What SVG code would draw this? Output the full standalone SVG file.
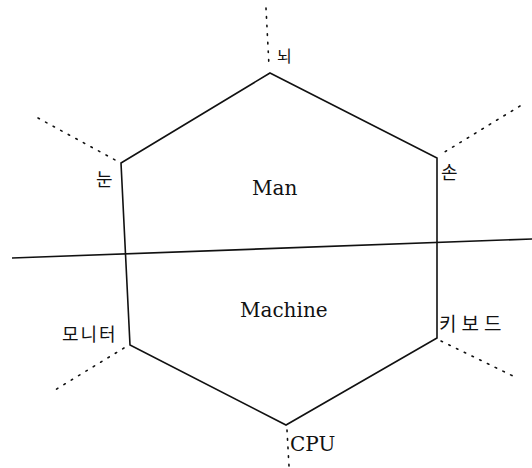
<svg xmlns="http://www.w3.org/2000/svg" width="532" height="468" viewBox="0 0 532 468">
<style>
.edge{fill:none;stroke:#111;stroke-width:1.6;stroke-linejoin:miter}
.dot{fill:none;stroke:#111;stroke-width:1.6;stroke-dasharray:1.6 7;stroke-linecap:round}
.ko{font-family:"Noto Sans CJK KR","Noto Sans",sans-serif;fill:#111}
.en{font-family:"DejaVu Serif","Liberation Serif",serif;font-size:20px;fill:#111}
</style>
<rect width="532" height="468" fill="#fff"/>
<g id="hexagon">
<polygon class="edge" points="270,73 437,158 437,338 286,425 130,345 121,163"/>
<line class="edge" x1="12" y1="258" x2="532" y2="239"/>
</g>
<g id="connectors">
<line class="dot" x1="266" y1="8" x2="269" y2="66"/>
<line class="dot" x1="38" y1="118" x2="117" y2="161"/>
<line class="dot" x1="520" y1="106" x2="443" y2="153"/>
<line class="dot" x1="124" y1="348" x2="55" y2="390"/>
<line class="dot" x1="441" y1="341" x2="517" y2="378"/>
<line class="dot" x1="287" y1="430" x2="289" y2="466"/>
</g>
<g id="node-brain"><text class="ko" x="277" y="62" font-size="16">뇌</text></g>
<g id="node-eye"><text class="ko" x="96" y="186" font-size="18">눈</text></g>
<g id="node-hand"><text class="ko" x="441" y="179" font-size="18">손</text></g>
<g id="node-monitor"><text class="ko" x="62" y="341" font-size="18" letter-spacing="2">모니터</text></g>
<g id="node-keyboard"><text class="ko" x="439" y="331" font-size="19" letter-spacing="5">키보드</text></g>
<g id="node-cpu"><text class="en" x="290" y="451">CPU</text></g>
<g id="node-man"><text class="en" x="252" y="195">Man</text></g>
<g id="node-machine"><text class="en" x="240" y="317">Machine</text></g>
</svg>
